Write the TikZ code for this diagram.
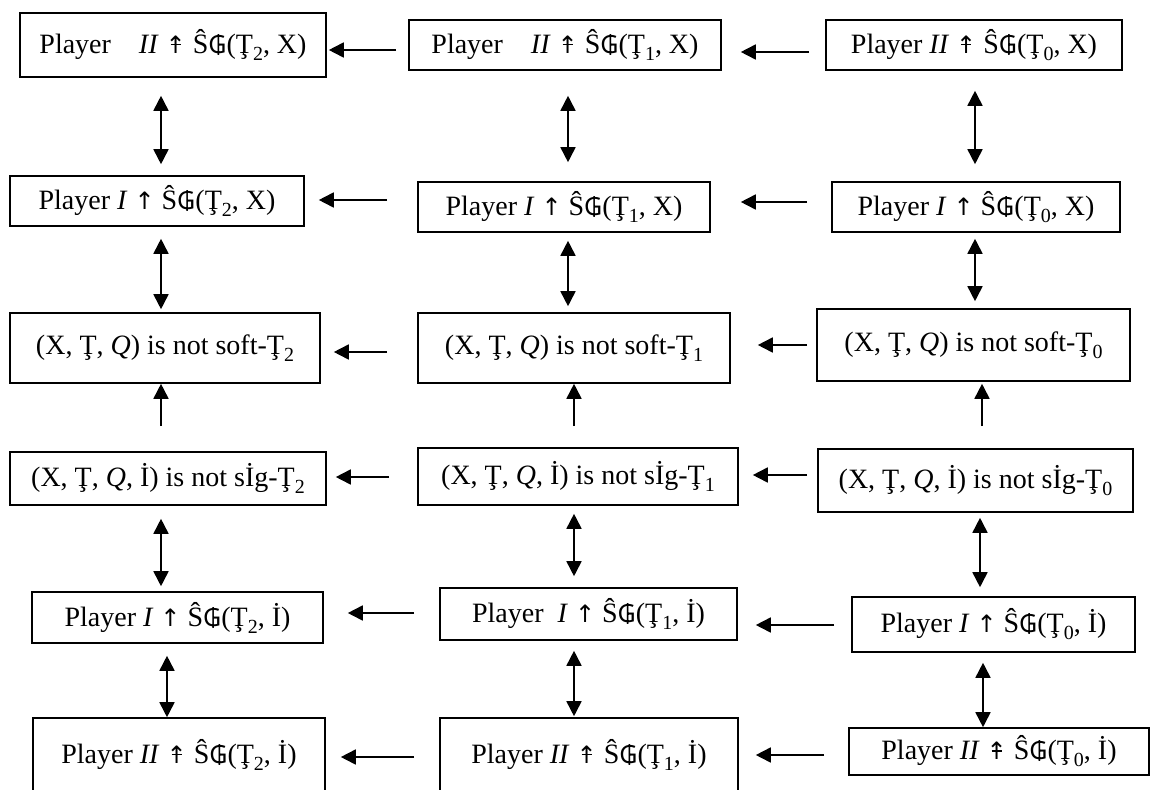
\documentclass[tikz,border=0pt]{standalone}
\usepackage{fontspec}
\setmainfont{Liberation Serif}
\newfontfamily\symsans{Noto Sans}
\newfontfamily\arrfont{DejaVu Sans}
\usetikzlibrary{arrows.meta,calc}
\newcommand\nsub[1]{\raisebox{-0.25em}{\fontsize{20}{20}\selectfont #1}}
\newcommand\Tc{Ţ}
\newcommand\Gs{{\symsans\fontsize{25}{25}\selectfont ₲}}
\newcommand\upa{{\arrfont\fontsize{24}{24}\selectfont ↑}}
\newlength\uparw
\settowidth\uparw{\arrfont\fontsize{24}{24}\selectfont ↑}
\newcommand\nup{\rlap{\upa}\makebox[\uparw]{\raisebox{0.3em}{\rule{0.36em}{1.4pt}}}}
\newcommand\SG{Ŝ\Gs}
\tikzset{
  box/.style={draw, line width=1.6pt, inner sep=0pt, anchor=center,
    font=\fontsize{28}{32}\selectfont},
  arr/.style={line width=1.7pt, -{Triangle[length=15pt,width=15pt]}},
  darr/.style={line width=1.7pt, {Triangle[length=15pt,width=15pt]}-{Triangle[length=15pt,width=15pt]}}
}
\begin{document}
\begin{tikzpicture}[x=1pt,y=-1pt]
\clip (0,0) rectangle (1150,789);
% row 1
\node[box, minimum width=306pt, minimum height=64pt] (L1) at (173,45) {Player\quad \textit{II} \nup\ \SG(\Tc\nsub{2}, X)};
\node[box, minimum width=312pt, minimum height=50pt] (M1) at (565,45) {Player\quad \textit{II} \nup\ \SG(\Tc\nsub{1}, X)};
\node[box, minimum width=296pt, minimum height=50pt] (R1) at (974,45) {Player \textit{II} \nup\ \SG(\Tc\nsub{0}, X)};
% row 2
\node[box, minimum width=294pt, minimum height=50pt] (L2) at (157,201) {Player \textit{I} \upa\ \SG(\Tc\nsub{2}, X)};
\node[box, minimum width=292pt, minimum height=50pt] (M2) at (564,207) {Player \textit{I} \upa\ \SG(\Tc\nsub{1}, X)};
\node[box, minimum width=288pt, minimum height=50pt] (R2) at (976,207) {Player \textit{I} \upa\ \SG(\Tc\nsub{0}, X)};
% row 3
\node[box, minimum width=310pt, minimum height=70pt] (L3) at (165,348) {(X, \Tc, \textit{Q}) is not soft-\Tc\nsub{2}};
\node[box, minimum width=312pt, minimum height=70pt] (M3) at (574,348) {(X, \Tc, \textit{Q}) is not soft-\Tc\nsub{1}};
\node[box, minimum width=313pt, minimum height=72pt] (R3) at (973.5,345) {(X, \Tc, \textit{Q}) is not soft-\Tc\nsub{0}};
% row 4
\node[box, minimum width=316pt, minimum height=53pt] (L4) at (168,478.5) {(X, \Tc, \textit{Q}, İ) is not sİg-\Tc\nsub{2}};
\node[box, minimum width=320pt, minimum height=57pt] (M4) at (578,476.5) {(X, \Tc, \textit{Q}, İ) is not sİg-\Tc\nsub{1}};
\node[box, minimum width=315pt, minimum height=63pt] (R4) at (975.5,480.5) {(X, \Tc, \textit{Q}, İ) is not sİg-\Tc\nsub{0}};
% row 5
\node[box, minimum width=291pt, minimum height=51pt] (L5) at (177.5,617.5) {Player \textit{I} \upa\ \SG(\Tc\nsub{2}, İ)};
\node[box, minimum width=297pt, minimum height=52pt] (M5) at (588.5,614) {Player\enspace \textit{I} \upa\ \SG(\Tc\nsub{1}, İ)};
\node[box, minimum width=283pt, minimum height=55pt] (R5) at (993.5,624.5) {Player \textit{I} \upa\ \SG(\Tc\nsub{0}, İ)};
% row 6
\node[box, minimum width=292pt, minimum height=74pt] (L6) at (179,755) {Player \textit{II} \nup\ \SG(\Tc\nsub{2}, İ)};
\node[box, minimum width=298pt, minimum height=74pt] (M6) at (589,755) {Player \textit{II} \nup\ \SG(\Tc\nsub{1}, İ)};
\node[box, minimum width=300pt, minimum height=47pt] (R6) at (999,751.5) {Player \textit{II} \nup\ \SG(\Tc\nsub{0}, İ)};

% horizontal arrows
\draw[arr] ($(M1.west)+(-12,5)$) -- ($(L1.east |- M1.west)+(2,5)$);
\draw[arr] ($(R1.west)+(-16,7)$) -- ($(M1.east |- R1.west)+(19,7)$);
\draw[arr] ($(M2.west)+(-30,-7)$) -- ($(L2.east |- M2.west)+(14,-7)$);
\draw[arr] ($(R2.west)+(-24,-5)$) -- ($(M2.east |- R2.west)+(30,-5)$);
\draw[arr] ($(M3.west)+(-30,4)$) -- ($(L3.east |- M3.west)+(13,4)$);
\draw[arr] ($(R3.west)+(-9,0)$) -- ($(M3.east |- R3.west)+(27,0)$);
\draw[arr] ($(M4.west)+(-28,0.5)$) -- ($(L4.east |- M4.west)+(9,0.5)$);
\draw[arr] ($(R4.west)+(-10,-5.5)$) -- ($(M4.east |- R4.west)+(14,-5.5)$);
\draw[arr] ($(M5.west)+(-25,-1)$) -- ($(L5.east |- M5.west)+(24,-1)$);
\draw[arr] ($(R5.west)+(-17,0.5)$) -- ($(M5.east |- R5.west)+(18,0.5)$);
\draw[arr] ($(M6.west)+(-25,2)$) -- ($(L6.east |- M6.west)+(15,2)$);
\draw[arr] ($(R6.west)+(-24,3.5)$) -- ($(M6.east |- R6.west)+(17,3.5)$);

% vertical arrows rows 1-2
\draw[darr] ($(L1.south)+(-12,18)$) -- ($(L2.north)+(4,-11)$);
\draw[darr] ($(M1.south)+(3,25)$) -- ($(M2.north)+(4,-19)$);
\draw[darr] ($(R1.south)+(1,20)$) -- ($(R2.north)+(-1,-17)$);
% rows 2-3
\draw[darr] ($(L2.south)+(4,12)$) -- ($(L3.north)+(-4,-3)$);
\draw[darr] ($(M2.south)+(4,8)$) -- ($(M3.north)+(-6,-6)$);
\draw[darr] ($(R2.south)+(-1,6)$) -- ($(R3.north)+(1.5,-7)$);
% rows 4 -> 3
\draw[arr] ($(L4.north)+(-7,-25)$) -- ($(L3.south)+(-4,0)$);
\draw[arr] ($(M4.north)+(-4,-21)$) -- ($(M3.south)+(0,0)$);
\draw[arr] ($(R4.north)+(6.5,-22)$) -- ($(R3.south)+(8.5,2)$);
% rows 4-5
\draw[darr] ($(L4.south)+(-7,13)$) -- ($(L5.north)+(-16.5,-5)$);
\draw[darr] ($(M4.south)+(-4,8)$) -- ($(M5.north)+(-14.5,-11)$);
\draw[darr] ($(R4.south)+(4.5,5)$) -- ($(R5.north)+(-13.5,-9)$);
% rows 5-6
\draw[darr] ($(L5.south)+(-10.5,12)$) -- ($(L6.north)+(-12,0)$);
\draw[darr] ($(M5.south)+(-14.5,10)$) -- ($(M6.north)+(-15,-1)$);
\draw[darr] ($(R5.south)+(-10.5,10)$) -- ($(R6.north)+(-16,0)$);
\end{tikzpicture}
\end{document}
